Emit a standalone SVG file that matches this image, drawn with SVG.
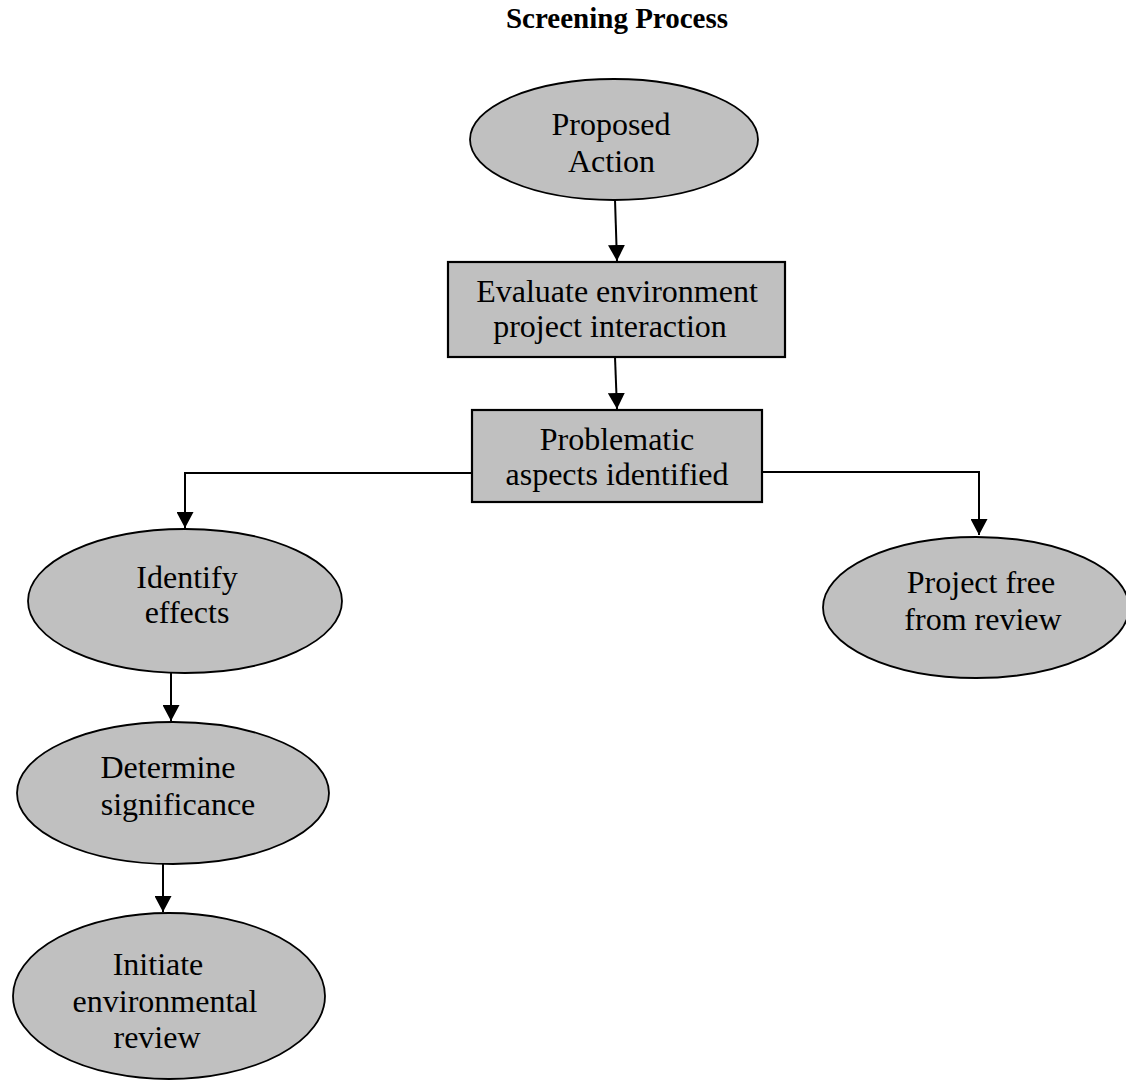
<svg xmlns="http://www.w3.org/2000/svg" width="1126" height="1080" viewBox="0 0 1126 1080">
<style>
text{font-family:"Liberation Serif","Times New Roman",serif;fill:#000;text-anchor:middle}
.t{font-size:32px}
.title{font-size:29px;font-weight:bold}
.node{fill:#c0c0c0;stroke:#000;stroke-width:1.8}
.rect{fill:#c0c0c0;stroke:#000;stroke-width:2.2}
.c{fill:none;stroke:#000;stroke-width:2}
</style>
<defs>
<marker id="ah" markerUnits="userSpaceOnUse" markerWidth="16" markerHeight="17" viewBox="0 0 16 17" refX="16" refY="8.5" orient="auto">
<path d="M0,0 L16,8.5 L0,17 z" fill="#000"/>
</marker>
</defs>
<rect width="1126" height="1080" fill="#fff"/>
<text class="title" x="617" y="28">Screening Process</text>
<g id="connectors">
<path class="c" d="M615,200 L617,261" marker-end="url(#ah)"/>
<path class="c" d="M615,357 L617,409" marker-end="url(#ah)"/>
<path class="c" d="M472,473 L185,473 L185,528" marker-end="url(#ah)"/>
<path class="c" d="M762,472 L979,472 L979,535" marker-end="url(#ah)"/>
<path class="c" d="M171,673 L171,721" marker-end="url(#ah)"/>
<path class="c" d="M163,864 L163,912" marker-end="url(#ah)"/>
</g>
<g id="proposed-action">
<ellipse class="node" cx="614" cy="139.5" rx="144" ry="60.5"/>
<text class="t" x="611" y="135">Proposed</text>
<text class="t" x="611.5" y="172">Action</text>
</g>
<g id="evaluate">
<rect class="rect" x="448" y="262" width="337" height="95"/>
<text class="t" x="617" y="302">Evaluate environment</text>
<text class="t" x="610" y="337">project interaction</text>
</g>
<g id="problematic">
<rect class="rect" x="472" y="410" width="290" height="92"/>
<text class="t" x="617" y="450">Problematic</text>
<text class="t" x="617" y="485">aspects identified</text>
</g>
<g id="identify-effects">
<ellipse class="node" cx="185" cy="601" rx="157" ry="72"/>
<text class="t" x="187" y="588">Identify</text>
<text class="t" x="187" y="623">effects</text>
</g>
<g id="project-free">
<ellipse class="node" cx="976" cy="607.5" rx="153" ry="70.5"/>
<text class="t" x="981" y="593">Project free</text>
<text class="t" x="983" y="630">from review</text>
</g>
<g id="determine">
<ellipse class="node" cx="173" cy="793" rx="156" ry="71"/>
<text class="t" x="168" y="778">Determine</text>
<text class="t" x="178" y="815">significance</text>
</g>
<g id="initiate">
<ellipse class="node" cx="169" cy="996" rx="156" ry="83"/>
<text class="t" x="158" y="975">Initiate</text>
<text class="t" x="165" y="1012">environmental</text>
<text class="t" x="157" y="1048">review</text>
</g>
</svg>
